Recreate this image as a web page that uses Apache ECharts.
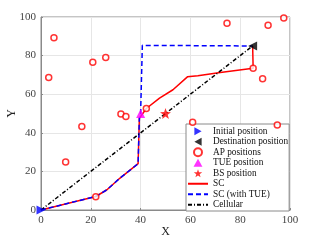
<!DOCTYPE html>
<html><head><meta charset="utf-8">
<script src="https://cdn.jsdelivr.net/npm/echarts@6/dist/echarts.min.js"></script>
<style>html,body{margin:0;padding:0;background:#fff}#c{width:321px;height:241px}</style>
</head><body><div id="c"></div>
<script>
const xTicks = [0, 20, 40, 60, 80, 100];
const yTicks = [0, 20, 40, 60, 80, 100];
const initialPos = [[0, 0]];
const destinationPos = [[85, 85]];
const apX = [3.1, 5.2, 20.8, 26.0, 32.1, 34.1, 42.3, 9.9, 16.4, 22.0, 74.7, 91.2, 97.5, 85.2, 89.0, 60.9, 94.9];
const apY = [68.7, 89.3, 76.6, 79.0, 49.7, 48.4, 52.6, 24.9, 43.2, 6.9, 96.7, 95.7, 99.5, 73.5, 68.0, 45.5, 44.1];
const tuePos = [[40, 50]];
const bsPos = [[50, 50]];
const scX = [0, 22, 26.5, 31.5, 39, 39.5, 42.3, 47.6, 53, 58.8, 63, 72, 85.2, 85];
const scY = [0, 7, 10.5, 16.3, 24, 47.5, 52.6, 58, 62.3, 69, 69.6, 71.3, 73.5, 85];
const sctX = [0, 22, 26.5, 31.5, 39, 39.5, 40, 40.7, 85];
const sctY = [0, 7, 10.5, 16.3, 24, 47.5, 50, 85.3, 85];
const cellX = [0, 85];
const cellY = [0, 85];

const zip = (a, b) => a.map((v, i) => [v, b[i]]);
const serif = '"Liberation Serif", "DejaVu Serif", serif';
const hideSym = {itemStyle: {opacity: 0}};
const triRight = 'path://M0,0L9,5L0,10Z';
const triLeft = 'path://M9,0L0,5L9,10Z';
const triUp = 'path://M5,0L10,9L0,9Z';
const star = 'path://M0,-10 L2.35,-3.24 L9.51,-3.09 L3.8,1.24 L5.88,8.09 L0,4 L-5.88,8.09 L-3.8,1.24 L-9.51,-3.09 L-2.35,-3.24 Z';

const chart = echarts.init(document.getElementById('c'), null, {renderer: 'canvas'});
chart.setOption({
  animation: false,
  backgroundColor: '#fff',
  grid: {left: 41, right: 31, top: 17, bottom: 31, containLabel: false, outerBoundsMode: 'none',
    show: true, borderColor: '#8a8a8a', borderWidth: 1, backgroundColor: 'transparent'},
  xAxis: {
    type: 'value', min: 0, max: 100, interval: 20,
    name: 'X', nameLocation: 'middle', nameGap: 16, nameMoveOverlap: false,
    nameTextStyle: {fontFamily: serif, fontSize: 12, color: '#222'},
    axisLine: {show: true, lineStyle: {color: '#8a8a8a'}},
    axisTick: {show: true, inside: true, length: 2, lineStyle: {color: '#8a8a8a'}},
    axisLabel: {fontFamily: serif, fontSize: 11, color: '#444', margin: 5,
      formatter: v => xTicks.includes(v) ? String(v) : ''},
    splitLine: {show: true, lineStyle: {color: '#e6e6e6', width: 1}}
  },
  yAxis: {
    type: 'value', min: 0, max: 100, interval: 20,
    name: 'Y', nameLocation: 'middle', nameGap: 23, nameRotate: 90, nameMoveOverlap: false,
    nameTextStyle: {fontFamily: serif, fontSize: 12, color: '#222'},
    axisLine: {show: true, lineStyle: {color: '#8a8a8a'}},
    axisTick: {show: true, inside: true, length: 2, lineStyle: {color: '#8a8a8a'}},
    axisLabel: {fontFamily: serif, fontSize: 11, color: '#444', margin: 5,
      formatter: v => yTicks.includes(v) ? String(v) : ''},
    splitLine: {show: true, lineStyle: {color: '#e6e6e6', width: 1}}
  },
  legend: {
    orient: 'vertical', left: 186, top: 124,
    itemWidth: 20, itemHeight: 8, itemGap: 0,
    padding: [2, 1, 1, 1],
    symbolKeepAspect: true,
    backgroundColor: '#fff', borderColor: '#8a8a8a', borderWidth: 1, borderRadius: 0,
    textStyle: {fontFamily: serif, fontSize: 9.3, lineHeight: 10.5, color: '#111'},
    data: [
      'Initial position', 'Destination position', 'AP positions', 'TUE position', 'BS position',
      Object.assign({name: 'SC'}, hideSym),
      Object.assign({name: 'SC (with TUE)'}, hideSym),
      Object.assign({name: 'Cellular'}, hideSym)
    ]
  },
  series: [
    {name: 'SC', type: 'line', data: zip(scX, scY), symbol: 'none', z: 3,
      lineStyle: {color: '#ff0000', width: 1.5}, itemStyle: {color: '#ff0000'}},
    {name: 'SC (with TUE)', type: 'line', data: zip(sctX, sctY), symbol: 'none', z: 4,
      lineStyle: {color: '#0000ff', width: 1.5, type: [5, 3]}, itemStyle: {color: '#0000ff'}},
    {name: 'Cellular', type: 'line', data: zip(cellX, cellY), symbol: 'none', z: 4,
      lineStyle: {color: '#000', width: 1.5, type: [4, 2, 1, 2]}, itemStyle: {color: '#000'}},
    {name: 'AP positions', type: 'scatter', data: zip(apX, apY), symbol: 'circle', symbolSize: 6, z: 5,
      itemStyle: {color: '#fff', borderColor: '#ff0000', borderWidth: 1.5}},
    {name: 'TUE position', type: 'scatter', data: tuePos, symbol: triUp, symbolSize: 9, z: 6,
      itemStyle: {color: '#ff00ff'}},
    {name: 'BS position', type: 'scatter', data: bsPos, symbol: star, symbolSize: 11, z: 6,
      itemStyle: {color: '#ff0000'}},
    {name: 'Destination position', type: 'scatter', data: destinationPos, symbol: triLeft, symbolSize: 9, z: 7,
      itemStyle: {color: '#000'}},
    {name: 'Initial position', type: 'scatter', data: initialPos, symbol: triRight, symbolSize: 9, z: 7,
      itemStyle: {color: '#0000ff'}}
  ]
});
</script></body></html>
